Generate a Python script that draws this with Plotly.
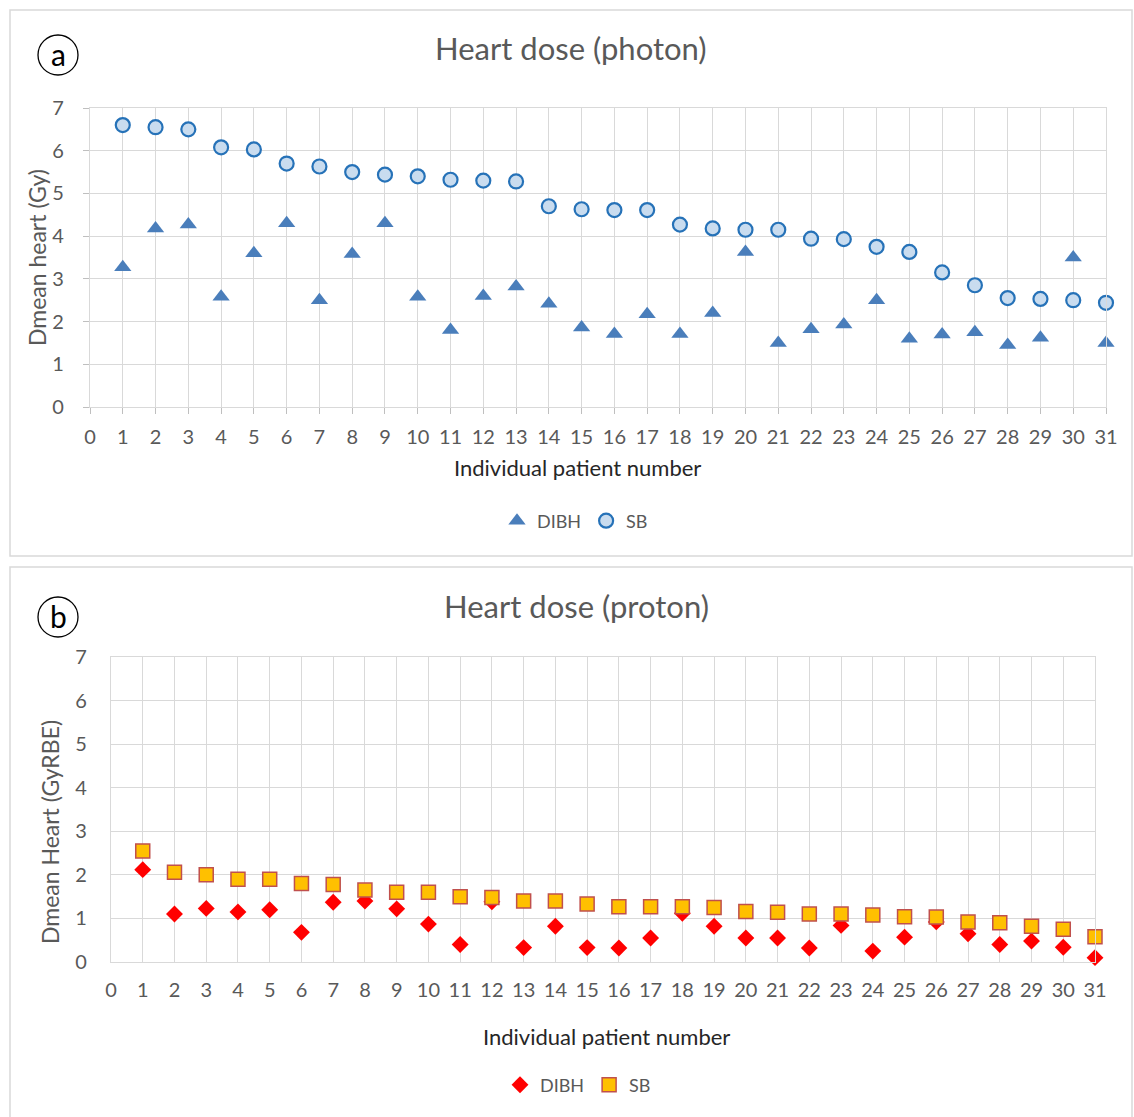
import plotly.graph_objects as go

patients = list(range(1, 32))

photon_sb = [6.6, 6.55, 6.5, 6.08, 6.03, 5.7, 5.63, 5.5, 5.44, 5.4, 5.32, 5.3, 5.28,
             4.7, 4.63, 4.61, 4.61, 4.27, 4.18, 4.15, 4.15, 3.94, 3.93, 3.75, 3.63,
             3.15, 2.85, 2.55, 2.53, 2.5, 2.44]
photon_dibh = [3.27, 4.18, 4.27, 2.58, 3.6, 4.3, 2.5, 3.58, 4.3, 2.58, 1.8, 2.6, 2.82,
               2.42, 1.86, 1.71, 2.17, 1.71, 2.2, 3.63, 1.5, 1.82, 1.93, 2.5, 1.6,
               1.7, 1.75, 1.45, 1.62, 3.5, 1.5]

proton_sb = [2.55, 2.06, 2.0, 1.9, 1.9, 1.8, 1.78, 1.65, 1.6, 1.6, 1.5, 1.48, 1.4,
             1.4, 1.33, 1.27, 1.27, 1.27, 1.25, 1.16, 1.14, 1.1, 1.1, 1.08, 1.04,
             1.03, 0.92, 0.9, 0.82, 0.75, 0.58]
proton_dibh = [2.12, 1.1, 1.23, 1.15, 1.2, 0.68, 1.37, 1.4, 1.22, 0.87, 0.4, 1.38, 0.33,
               0.82, 0.33, 0.32, 0.55, 1.12, 0.82, 0.55, 0.55, 0.32, 0.84, 0.25, 0.57,
               0.92, 0.65, 0.4, 0.48, 0.34, 0.1]

x_ticks = list(range(0, 32))
y_ticks = list(range(0, 8))

W, H = 1134, 1117
FONT = "Lato, 'Open Sans', sans-serif"
GRID = "#d9d9d9"
TXT = "#595959"

def px(x):
    return x / W

def py(y):
    return 1 - y / H

fig = go.Figure()

# Panel a traces
fig.add_trace(go.Scatter(x=patients, y=photon_dibh, mode="markers", name="DIBH",
                         marker=dict(symbol="triangle-up", size=15, color="#4a7ebb"),
                         xaxis="x", yaxis="y", legend="legend", cliponaxis=False))
fig.add_trace(go.Scatter(x=patients, y=photon_sb, mode="markers", name="SB",
                         marker=dict(symbol="circle", size=14, color="#c9dcef",
                                     line=dict(color="#2672b8", width=2.2)),
                         xaxis="x", yaxis="y", legend="legend", cliponaxis=False))
# Panel b traces
fig.add_trace(go.Scatter(x=patients, y=proton_dibh, mode="markers", name="DIBH",
                         marker=dict(symbol="diamond", size=13, color="#ff0000"),
                         xaxis="x2", yaxis="y2", legend="legend2", cliponaxis=False))
fig.add_trace(go.Scatter(x=patients, y=proton_sb, mode="markers", name="SB",
                         marker=dict(symbol="square", size=14, color="#ffc000",
                                     line=dict(color="#c0504d", width=1.5)),
                         xaxis="x2", yaxis="y2", legend="legend2", cliponaxis=False))

axis_common = dict(
    showgrid=True, gridcolor=GRID, gridwidth=1.3, zeroline=False,
    showline=True, linecolor=GRID, linewidth=1.3, mirror=True,
    tickcolor="#bfbfbf", automargin=False,
    tickfont=dict(family=FONT, size=20, color=TXT),
)

fig.update_layout(
    width=W, height=H,
    margin=dict(l=0, r=0, t=0, b=0, autoexpand=False),
    paper_bgcolor="white", plot_bgcolor="white",
    font=dict(family=FONT, color=TXT),
    xaxis=dict(domain=[px(90), px(1106)], range=[0, 31], tickmode="array",
               tickvals=x_ticks, ticktext=[str(v) for v in x_ticks],
               anchor="y", ticks="outside", ticklen=6, ticklabelstandoff=6,
               **axis_common),
    yaxis=dict(domain=[py(407), py(108)], range=[0, 7], tickmode="array",
               tickvals=y_ticks, ticktext=[str(v) for v in y_ticks],
               anchor="x", ticks="outside", ticklen=6, ticklabelstandoff=15,
               **axis_common),
    xaxis2=dict(domain=[px(111), px(1095)], range=[0, 31], tickmode="array",
                tickvals=x_ticks, ticktext=[str(v) for v in x_ticks],
                anchor="y2", ticks="", ticklabelstandoff=10, **axis_common),
    yaxis2=dict(domain=[py(962), py(657)], range=[0, 7], tickmode="array",
                tickvals=y_ticks, ticktext=[str(v) for v in y_ticks],
                anchor="x2", ticks="", ticklabelstandoff=19, **axis_common),
    legend=dict(orientation="h", x=px(575), xanchor="center", y=py(521), yanchor="middle",
                font=dict(family=FONT, size=18, color=TXT), itemwidth=30,
                bgcolor="rgba(0,0,0,0)"),
    legend2=dict(orientation="h", x=px(578), xanchor="center", y=py(1085), yanchor="middle",
                 font=dict(family=FONT, size=18, color=TXT), itemwidth=30,
                 bgcolor="rgba(0,0,0,0)"),
    showlegend=True,
)

# Panel frames
fig.add_shape(type="rect", xref="paper", yref="paper", x0=px(10), x1=px(1132),
              y0=py(556), y1=py(10), line=dict(color=GRID, width=1.5), layer="below")
fig.add_shape(type="rect", xref="paper", yref="paper", x0=px(10), x1=px(1132),
              y0=py(1118), y1=py(567), line=dict(color=GRID, width=1.5), layer="below")

def label(text, x, y, size, color, angle=0):
    fig.add_annotation(text=text, xref="paper", yref="paper", x=px(x), y=py(y),
                       xanchor="center", yanchor="middle", showarrow=False,
                       textangle=angle, font=dict(family=FONT, size=size, color=color))

# Titles
label("Heart dose (photon)", 571, 48, 31, TXT)
label("Heart dose (proton)", 576, 606, 31, TXT)

# Axis titles
label("Individual patient number", 577, 467, 22, "#262626")
label("Individual patient number", 606, 1036, 22, "#262626")
label("Dmean heart (Gy)", 37, 258, 23, TXT, -90)
label("Dmean Heart (GyRBE)", 50, 832, 23, TXT, -90)

# Circled panel letters
for letter, cy in (("a", 55), ("b", 617)):
    fig.add_shape(type="circle", xref="paper", yref="paper",
                  x0=px(38), x1=px(78), y0=py(cy + 20), y1=py(cy - 20),
                  line=dict(color="black", width=1.3))
    label(letter, 58, cy - 1, 30, "black")

fig.write_html("out.html", config={"displayModeBar": False},
               post_script="document.body.style.margin='0';"
                           "document.body.style.overflow='hidden';")
